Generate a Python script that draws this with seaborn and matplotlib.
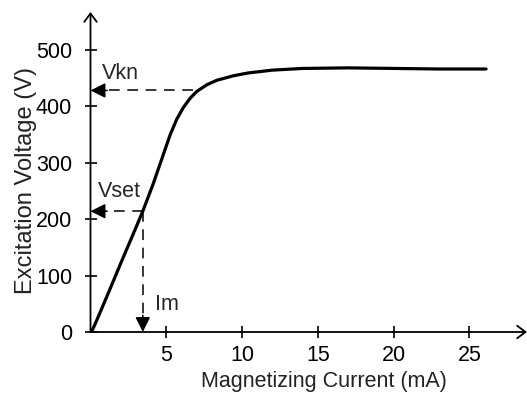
import matplotlib
matplotlib.use('Agg')
import seaborn as sns
import matplotlib.pyplot as plt

# magnetizing curve
current_ma = [0, 0.15, 0.4, 1.16, 2.03, 2.92, 3.45, 4.13, 4.67, 5.25, 5.69, 6.13,
              6.57, 7.0, 7.67, 8.33, 9.43, 10.4, 12.0, 14.0, 17.0, 20.0, 23.0, 26.1]
voltage_v = [0, 5, 20, 68, 124, 180, 214, 262, 304, 349, 377, 398,
             414, 426, 438, 446, 454, 459, 464, 467, 468, 467, 466, 466]

# marked points
vset_i, vset_v = 3.45, 214
vkn_i, vkn_v = 6.75, 428

x_ticks = [5, 10, 15, 20, 25]
y_ticks = [0, 100, 200, 300, 400, 500]
x_max, y_max = 28.8, 567

sns.set_theme(style='white')
plt.rcParams['font.family'] = ['Liberation Sans', 'DejaVu Sans']

fig = plt.figure(figsize=(5.27, 3.98), dpi=100)
ax = fig.add_axes([90.5 / 527, 66 / 398, 436.5 / 527, 320 / 398])

sns.lineplot(x=current_ma, y=voltage_v, sort=False, color='black', linewidth=2.3, ax=ax)
ax.lines[0].set_solid_joinstyle('round')

ax.set_xlim(0, x_max)
ax.set_ylim(0, y_max)
ax.set_xticks(x_ticks)
ax.set_yticks(y_ticks)
for s in ax.spines.values():
    s.set_visible(False)
ax.tick_params(direction='inout', length=8.5, width=1.2, color='black',
               labelsize=15.5, labelcolor='black', left=True, bottom=True)
ax.tick_params(axis='x', pad=5)
ax.tick_params(axis='y', pad=9)

ax.set_xlabel('Magnetizing Current (mA)', fontsize=15.5, color='#222222')
ax.set_ylabel('Excitation Voltage (V)', fontsize=17, color='#222222')
ax.xaxis.set_label_coords(0.535, -0.121)
ax.yaxis.set_label_coords(-0.122, 0.475)

# axes with open arrow heads
axis_arrow = dict(arrowstyle='->,head_length=0.6,head_width=0.45', color='black',
                  lw=1.3, shrinkA=0, shrinkB=0, mutation_scale=10)
ax.annotate('', xy=(0, 1), xytext=(0, 0), xycoords='axes fraction', arrowprops=axis_arrow,
            annotation_clip=False)
ax.annotate('', xy=(1, 0), xytext=(0, 0), xycoords='axes fraction', arrowprops=axis_arrow,
            annotation_clip=False)

# dashed guide lines
dash = dict(color='black', lw=1.1, dashes=(7, 5))
ax.plot([vkn_i, 0.6], [vkn_v, vkn_v], **dash)
ax.plot([vset_i, 0.6], [vset_v, vset_v], **dash)
ax.plot([vset_i, vset_i], [vset_v, 20], **dash)

head = dict(arrowstyle='-|>,head_length=0.9,head_width=0.45', color='black',
            lw=1.1, shrinkA=0, shrinkB=0, mutation_scale=10)
ax.annotate('', xy=(0, vkn_v), xytext=(12, 0), textcoords='offset points', arrowprops=head)
ax.annotate('', xy=(0, vset_v), xytext=(12, 0), textcoords='offset points', arrowprops=head)
ax.annotate('', xy=(vset_i, 0), xytext=(0, 12), textcoords='offset points', arrowprops=head)

ax.annotate('Vkn', xy=(0, vkn_v), xytext=(8.3, 8.6), textcoords='offset points',
            fontsize=15.5, va='baseline')
ax.annotate('Vset', xy=(0, vset_v), xytext=(5.4, 10), textcoords='offset points',
            fontsize=15.5, va='baseline')
ax.annotate('Im', xy=(vset_i, 0), xytext=(8.9, 15.8), textcoords='offset points',
            fontsize=15.5, va='baseline')

fig.savefig('out.png', dpi=100)
